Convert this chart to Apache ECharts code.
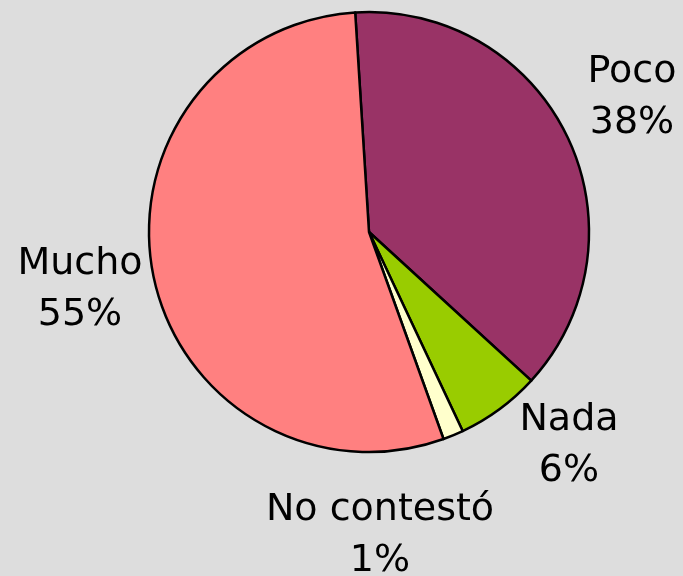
<!DOCTYPE html>
<html>
<head>
<meta charset="utf-8">
<script src="https://cdn.jsdelivr.net/npm/echarts@6/dist/echarts.min.js"></script>
<style>
  html, body { margin: 0; padding: 0; background: #dddddd; }
  #chart { width: 683px; height: 576px; }
</style>
</head>
<body>
<div id="chart"></div>
<script>
const categories = ['Poco', 'Nada', 'No contestó', 'Mucho']
const values = [37.8, 6.2, 1.5, 54.5]
const percentLabels = ['38%', '6%', '1%', '55%']
const colors = ['#993366', '#99cc00', '#ffffcc', '#ff8080']

// label anchor points (centre of each two-line label)
const labelPos = [[632, 98], [569, 446], [380, 536], [80, 290]]

const myChart = echarts.init(document.getElementById('chart'))
const option = {
  backgroundColor: '#dddddd',
  animation: false,
  series: [
    {
      type: 'pie',
      center: [369, 232],
      radius: 220,
      startAngle: 93.6,
      clockwise: true,
      avoidLabelOverlap: false,
      data: categories.map((name, i) => ({
        name: name,
        value: values[i],
        itemStyle: { color: colors[i] }
      })),
      itemStyle: {
        borderColor: '#000',
        borderWidth: 2.5
      },
      emphasis: { disabled: true },
      label: {
        show: true,
        position: 'outside',
        formatter: (p) => p.name + '\n' + percentLabels[p.dataIndex],
        fontFamily: 'DejaVu Sans',
        fontSize: 38,
        lineHeight: 51,
        color: '#000'
      },
      labelLine: { show: false },
      labelLayout: (params) => ({
        x: labelPos[params.dataIndex][0],
        y: labelPos[params.dataIndex][1],
        align: 'center',
        verticalAlign: 'middle'
      })
    }
  ]
}
myChart.setOption(option)
</script>
</body>
</html>
